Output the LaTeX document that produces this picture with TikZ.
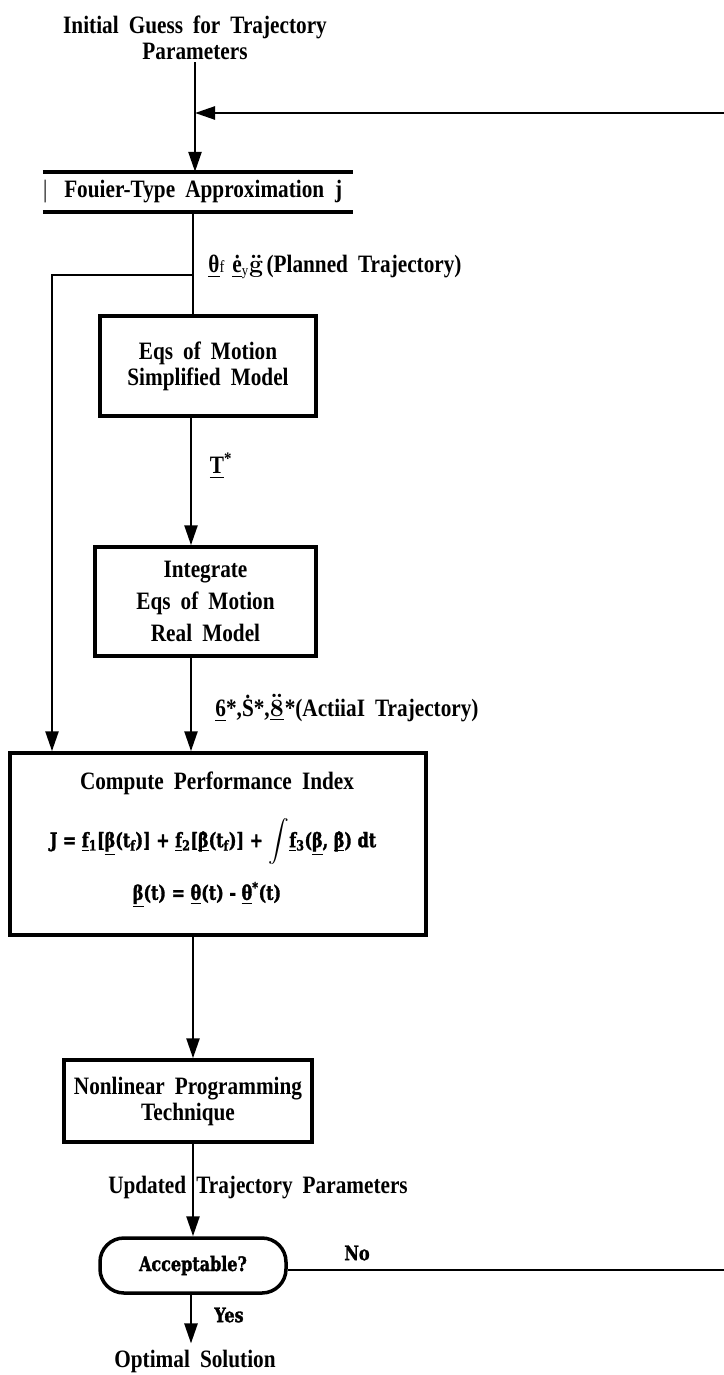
\documentclass[tikz,border=0pt]{standalone}
\usepackage{exscale}
\usepackage{fontspec}
\setmainfont{Liberation Serif}[FakeStretch=0.85, WordSpace=1.9]
\newfontfamily\heavyfont{DejaVu Serif Bold}[FakeStretch=0.8, FakeBold=1.5]
\newcommand\overdot[1]{\ooalign{#1\cr\hidewidth\raisebox{0.62em}{.}\hidewidth\cr}}
\usetikzlibrary{arrows.meta}

\begin{document}
\begin{tikzpicture}[x=1pt, y=-1pt,
    every node/.style={font=\bfseries\fontsize{25}{26}\selectfont\boldmath},
    block/.style={rectangle, draw=black, line width=3.5pt, align=center, inner sep=0pt},
    term/.style={block, rounded corners=24pt},
    heavy/.style={font=\heavyfont\fontsize{20}{21}\selectfont},
    flow/.style={-{Triangle[length=20pt,width=13pt]}, line width=2.5pt},
    wire/.style={line width=2.5pt},
    tag/.style={align=left, inner sep=0pt}
]
    \useasboundingbox (0,0) rectangle (723,1375);

    \node[align=center, inner sep=2pt] (init) at (195,38) {Initial Guess for Trajectory\\Parameters};
    \node[inner sep=0pt, minimum width=310pt, minimum height=40pt] (fourier) at (198,192)
        {\makebox[310pt][l]{\mdseries|\hspace{17pt}\bfseries Fouier-Type Approximation\hspace{11pt}j}};

    \node[block, minimum width=216pt, minimum height=100pt] (eqs) at (208,366) {Eqs of Motion\\Simplified Model};
    \node[block, minimum width=221pt, minimum height=109pt] (integ) at (205.5,601.5) {Integrate\\[6pt]Eqs of Motion\\[6pt]Real Model};
    \node[block, minimum width=416pt, minimum height=182pt] (perf) at (218,844) {};
    \node (perfTitle) at (217,783) {Compute Performance Index};
    \node[heavy] (perfCost) at (213,842)
        {J = \underline{f}\textsubscript{1}[\underline{β}(t\textsubscript{f})] + \underline{f}\textsubscript{2}[\underline{\overdot{β}}(t\textsubscript{f})] + ${\displaystyle\int}$\underline{f}\textsubscript{3}(\underline{β}, \underline{\overdot{β}}) dt};
    \node[heavy] (perfErr) at (207,895)
        {\underline{β}(t) = \underline{θ}(t) - \underline{θ}\textsuperscript{*}(t)};
    \node[block, minimum width=248pt, minimum height=82pt] (nlp) at (188,1101) {Nonlinear Programming\\Technique};
    \node[term, heavy, minimum width=186pt, minimum height=55pt] (acc) at (193,1265.5) {Acceptable?};
    \node[inner sep=0pt] (opt) at (195,1361) {Optimal Solution};

    % signal labels
    \node[tag] (planned) at (335,267)
        {\underline{θ}{\mdseries\fontsize{17}{17}\selectfont f}\hspace{8pt}\underline{ė}\raisebox{-3pt}{\mdseries\fontsize{15}{15}\selectfont y}\kern1pt$\ddot{\mathbf g}$\kern3pt(Planned Trajectory)};
    \node[tag] (torque) at (221,466) {\underline{T}\textsuperscript{*}};
    \node[tag] (actual) at (347,708) {\underline{6}*,\.{S}*,$\underline{\ddot{\mathbf 8}}$\kern1pt*(ActiiaI Trajectory)};
    \node[tag] (updated) at (258,1188) {Updated Trajectory Parameters};
    \node[tag, heavy] (no) at (357,1253) {No};
    \node[tag, heavy] (yes) at (229,1315) {Yes};

    \coordinate (split) at (193,275);
    \coordinate (bypass) at (52,275);
    \coordinate (rail) at (191,0);
    \coordinate (loopLow) at (740,1270);
    \coordinate (loopHigh) at (740,113);

    \draw[line width=3.5pt] (fourier.north west) -- (fourier.north east);
    \draw[line width=3.5pt] (fourier.south west) -- (fourier.south east);

    \draw[flow] (init.south) -- (init.south |- fourier.north);
    \draw[flow] (acc.east |- loopLow) -- (loopLow) -- (loopHigh) -- (loopHigh -| init.south);
    \draw[wire] (fourier.south -| split) -- (eqs.north -| split);
    \draw[flow] (split) -- (bypass) -- (bypass |- perf.north);
    \draw[flow] (eqs.south -| rail) -- (integ.north -| rail);
    \draw[flow] (integ.south -| rail) -- (perf.north -| rail);
    \draw[flow] (perf.south -| split) -- (nlp.north -| split);
    \draw[flow] (nlp.south -| split) -- (acc.north -| split);
    \draw[flow, shorten >=6pt] (acc.south -| rail) -- (opt.north -| rail);
\end{tikzpicture}
\end{document}
